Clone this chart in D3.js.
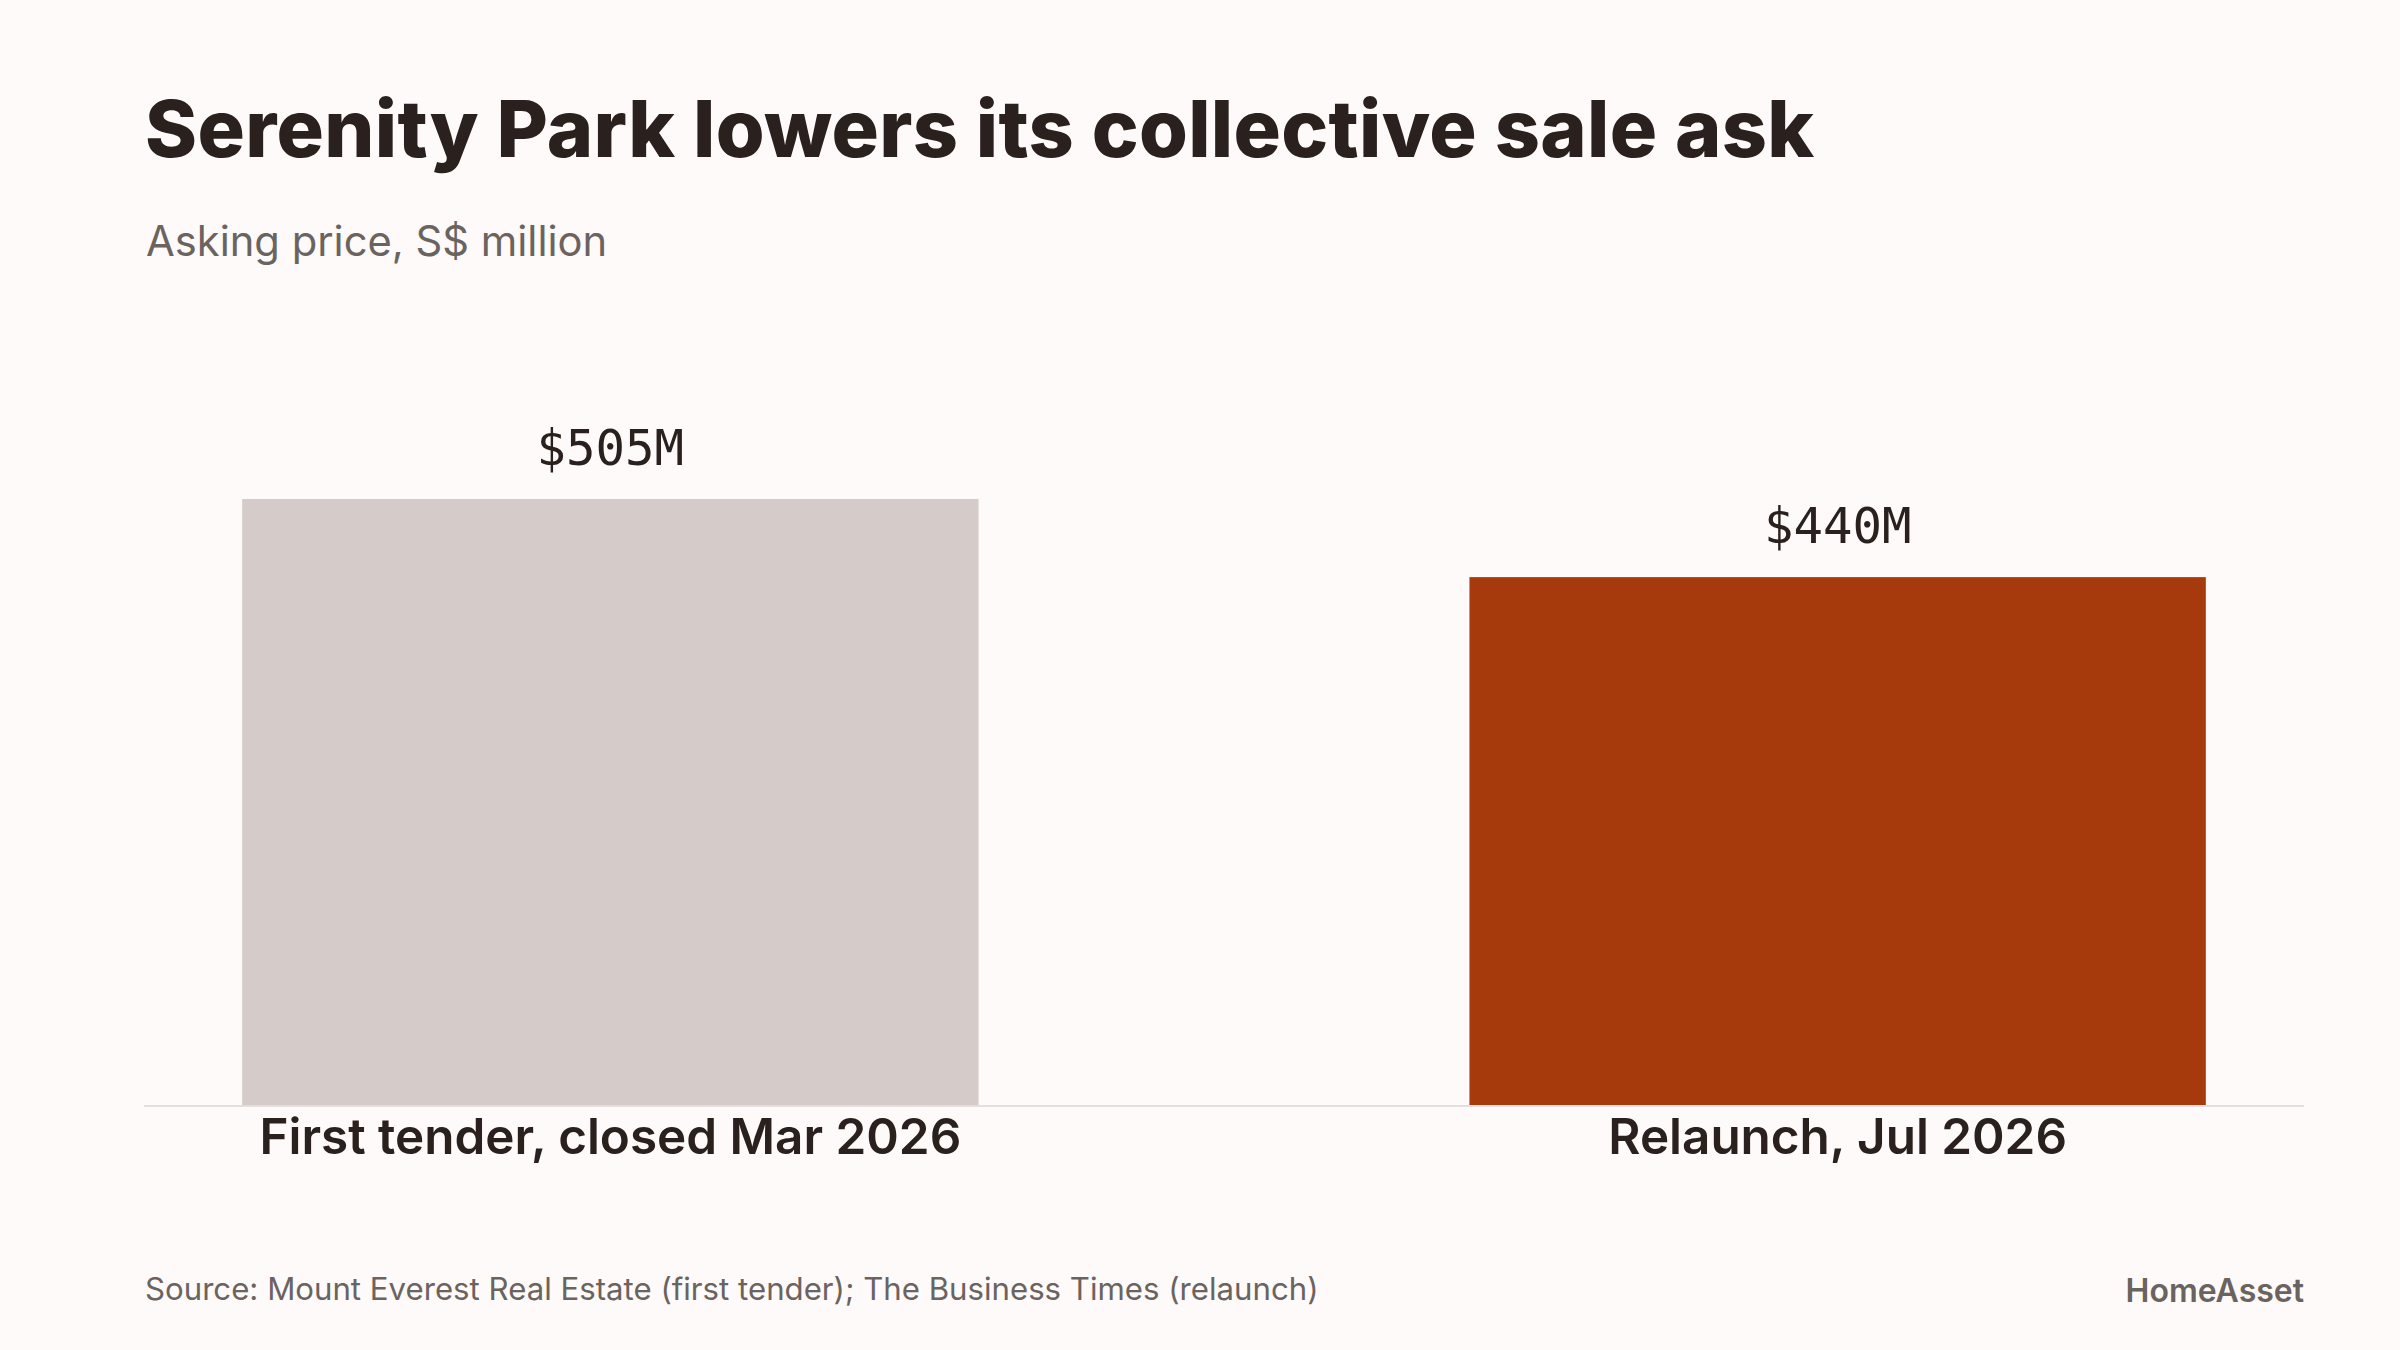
<!DOCTYPE html>
<html>
<head>
<meta charset="utf-8">
<script src="https://cdn.jsdelivr.net/npm/d3@7"></script>
<style>
  html, body { margin: 0; padding: 0; background: #fdfaf9; }
  svg { display: block; }
</style>
</head>
<body>
<svg id="chart" width="2400" height="1350"></svg>
<script>
const categories = ["First tender, closed Mar 2026", "Relaunch, Jul 2026"];
const values = [505, 440];
const valueLabels = ["$505M", "$440M"];
const barColors = ["#d5ccc9", "#a63a0d"];
const titleText = "Serenity Park lowers its collective sale ask";
const subtitleText = "Asking price, S$ million";
const sourceText = "Source: Mount Everest Real Estate (first tender); The Business Times (relaunch)";
const brandText = "HomeAsset";

const W = 2400, H = 1350;
const svg = d3.select("#chart");
svg.append("rect").attr("width", W).attr("height", H).attr("fill", "#fdfaf9");

const left = 144, right = 2304, baseY = 1106, topY = 499;
const data = categories.map((c, i) => ({ cat: c, value: values[i], label: valueLabels[i], color: barColors[i] }));

const x = d3.scaleBand().domain(categories).range([left, right]).paddingInner(0.4).paddingOuter(0.08);
const y = d3.scaleLinear().domain([0, d3.max(values)]).range([baseY, topY]);

const sans = "Inter, 'Noto Sans', sans-serif";
const dark = "#2a201d", gray = "#6b6360";

svg.append("text").attr("x", 145).attr("y", 157)
  .attr("font-family", sans).attr("font-weight", 800).attr("font-size", 79)
  .attr("letter-spacing", 0.3)
  .attr("fill", dark).text(titleText);

svg.append("text").attr("x", 146).attr("y", 256)
  .attr("font-family", sans).attr("font-weight", 400).attr("font-size", 41.7)
  .attr("fill", gray).text(subtitleText);

svg.selectAll("rect.bar").data(data).join("rect").attr("class", "bar")
  .attr("x", d => x(d.cat)).attr("width", x.bandwidth())
  .attr("y", d => y(d.value)).attr("height", d => baseY - y(d.value))
  .attr("fill", d => d.color);

svg.selectAll("text.val").data(data).join("text").attr("class", "val")
  .attr("x", d => x(d.cat) + x.bandwidth() / 2)
  .attr("y", d => y(d.value) - 34)
  .attr("text-anchor", "middle")
  .attr("font-family", "'DejaVu Sans Mono', 'Liberation Mono', monospace")
  .attr("font-size", 49).attr("fill", dark)
  .text(d => d.label);

const xAxis = svg.append("g").attr("transform", `translate(0,${baseY})`)
  .call(d3.axisBottom(x).tickSize(0).tickPadding(48));
xAxis.select(".domain").attr("stroke", "#e4dfdd").attr("stroke-width", 2)
  .attr("d", `M${left},0H${right}`);
xAxis.selectAll(".tick text")
  .attr("font-family", sans).attr("font-weight", 600).attr("font-size", 49.4)
  .attr("fill", dark).attr("dy", 0).attr("y", 48);

svg.append("text").attr("x", 145).attr("y", 1300)
  .attr("font-family", sans).attr("font-size", 31.2).attr("fill", gray).text(sourceText);

svg.append("text").attr("x", 2304).attr("y", 1302).attr("text-anchor", "end")
  .attr("font-family", sans).attr("font-weight", 600).attr("font-size", 32)
  .attr("fill", gray).text(brandText);
</script>
</body>
</html>
